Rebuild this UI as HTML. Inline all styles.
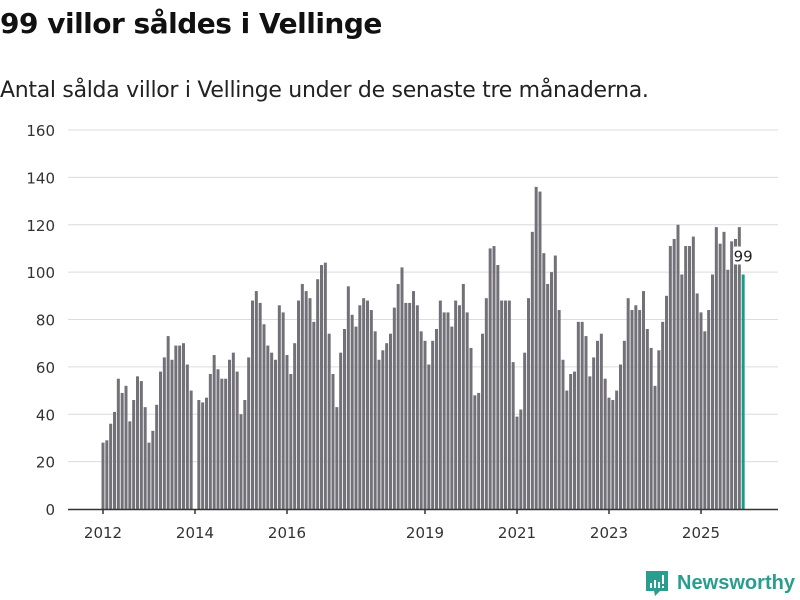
<!DOCTYPE html>
<html><head><meta charset="utf-8"><style>
body{margin:0;background:#fff;width:800px;height:600px;overflow:hidden;font-family:"Liberation Sans","DejaVu Sans",sans-serif;}
#title{position:absolute;left:0;top:7px;font-size:28px;font-weight:bold;color:#111;font-family:"DejaVu Sans","Liberation Sans",sans-serif;letter-spacing:-0.5px}
#sub{position:absolute;left:0;top:78px;font-size:22px;color:#222;font-family:"DejaVu Sans","Liberation Sans",sans-serif;letter-spacing:-0.3px}
svg{position:absolute;left:0;top:0}
</style></head><body>
<div id="title">99 villor såldes i Vellinge</div>
<div id="sub">Antal sålda villor i Vellinge under de senaste tre månaderna.</div>
<svg id="chart" width="800" height="600"></svg>
<script>
const values = [
28,29,36,41,55,49,52,37,46,56,54,43,
28,33,44,58,64,73,63,69,69,70,61,50,
0,46,45,47,57,65,59,55,55,63,66,58,
40,46,64,88,92,87,78,69,66,63,86,83,
65,57,70,88,95,92,89,79,97,103,104,74,
57,43,66,76,94,82,77,86,89,88,84,75,
63,67,70,74,85,95,102,87,87,92,86,75,
71,61,71,76,88,83,83,77,88,86,95,83,
68,48,49,74,89,110,111,103,88,88,88,62,
39,42,66,89,117,136,134,108,95,100,107,84,
63,50,57,58,79,79,73,56,64,71,74,55,
47,46,50,61,71,89,84,86,84,92,76,68,
52,67,79,90,111,114,120,99,111,111,115,91,
83,75,84,99,119,112,117,101,113,114,119,99];
const startYear = 2012;
const yTicks = [0,20,40,60,80,100,120,140,160];
const xTickYears = [2012,2014,2016,2019,2021,2023,2025];
const NS="http://www.w3.org/2000/svg";
const svg=document.getElementById('chart');
const y0=509, y1=130, yMax=160;
const x0=103, step=46/12;
function yS(v){return y0-(v/yMax)*(y0-y1);}
function xS(i){return x0+i*step;}
function mk(t,a){const e=document.createElementNS(NS,t);for(const k in a)e.setAttribute(k,a[k]);svg.appendChild(e);return e;}
yTicks.forEach(t=>{
  if(t>0){const g=mk('line',{x1:68,x2:778,y1:yS(t),y2:yS(t),stroke:'#dcdcdc','stroke-width':1});
  
  }
  const l=mk('text',{x:55,y:yS(t)+6,'text-anchor':'end','font-size':15,fill:'#333','font-family':'DejaVu Sans, Liberation Sans, sans-serif'});
  l.textContent=t;
  
  
});
values.forEach((v,i)=>{
  const last=i===values.length-1;
  const r=mk('rect',{x:xS(i)-1.5,y:yS(v),width:3,height:y0-yS(v),fill:last?'#1a9a8c':'#737178'});
  
  
});
const base=mk('line',{x1:68,x2:778,y1:y0+0.5,y2:y0+0.5,stroke:'#333','stroke-width':1.5});


xTickYears.forEach(yr=>{
  const x=xS((yr-startYear)*12);
  const tk=mk('line',{x1:x,x2:x,y1:y0,y2:y0+5,stroke:'#333','stroke-width':1.5});
  
  
  const l=mk('text',{x:x,y:538,'text-anchor':'middle','font-size':15,fill:'#333','font-family':'DejaVu Sans, Liberation Sans, sans-serif'});
  l.textContent=yr;
  
  
});
const li=values.length-1;
const bg=mk('rect',{x:xS(li)-10,y:yS(values[li])-28,width:21,height:18,fill:'#fff',rx:2});


const vl=mk('text',{x:xS(li),y:yS(values[li])-13,'text-anchor':'middle','font-size':15,fill:'#222','font-family':'DejaVu Sans, Liberation Sans, sans-serif'});
vl.textContent=values[li];


</script>
<svg width="800" height="600" style="position:absolute;left:0;top:0;pointer-events:none">
  <path d="M646 571 h22 v20 h-8 l-5 5 l-1 -5 h-8 z" fill="#2a9d8f"/>
  <rect x="650" y="583" width="2" height="5" fill="#fff"/>
  <rect x="654" y="580" width="2" height="8" fill="#fff"/>
  <rect x="658" y="582" width="2" height="6" fill="#fff"/>
  <rect x="662" y="575" width="2" height="9" fill="#fff"/>
  <rect x="662" y="586" width="2" height="2" fill="#fff"/>
  <text x="677" y="589" font-size="20" font-weight="bold" fill="#2a9d8f" font-family="Liberation Sans, sans-serif" textLength="118" lengthAdjust="spacingAndGlyphs">Newsworthy</text>
</svg>
</body></html>
